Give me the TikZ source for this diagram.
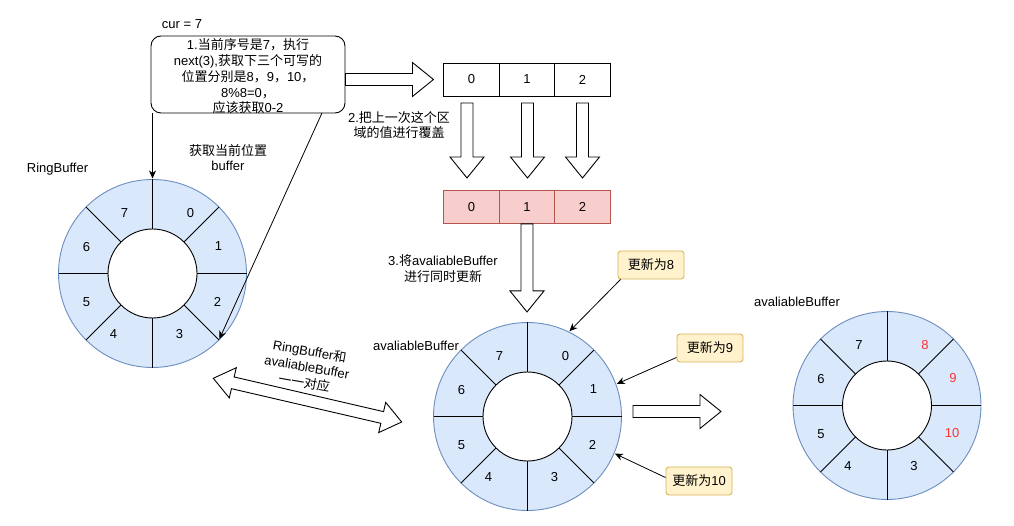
\documentclass[tikz,border=0pt]{standalone}
\usepackage{fontspec}
\setmainfont{Liberation Sans}
\newfontfamily\cjk{Noto Sans CJK SC}
\usetikzlibrary{arrows.meta,calc}

\definecolor{ringfill}{HTML}{DAE8FC}
\definecolor{ringdraw}{HTML}{6C8EBF}
\definecolor{redfill}{HTML}{F8CECC}
\definecolor{reddraw}{HTML}{B85450}
\definecolor{notefill}{HTML}{FFF2CC}
\definecolor{notedraw}{HTML}{D6B656}
\definecolor{hot}{HTML}{FF3333}

\newcommand{\drawring}[2]{%
  \node[circle, draw=ringdraw, fill=ringfill, minimum size=188pt, inner sep=0pt, outer sep=0pt] (#1) at #2 {};
  \node[circle, draw, fill=white, minimum size=89pt, inner sep=0pt, outer sep=0pt] (#1in) at #2 {};
  \foreach \a in {0,45,...,315} {\draw (#1in.\a) -- (#1.\a);}
}
% block arrow: start coordinate, angle, length
\newcommand{\blockarrow}[3]{%
  \begin{scope}[shift={#1}, rotate=#2]
    \draw[blk] (0,-6) -- ({#3-21},-6) -- ({#3-21},-17) -- (#3,0) -- ({#3-21},17) -- ({#3-21},6) -- (0,6) -- cycle;
  \end{scope}}

\begin{document}
\begin{tikzpicture}[x=1pt,y=-1pt,line width=0.9pt,
  font=\fontsize{13}{15.8}\selectfont,
  lbl/.style={inner sep=0pt, align=center},
  cell/.style={draw, minimum width=55.5pt, minimum height=33pt, inner sep=0pt},
  redcell/.style={cell, draw=reddraw, fill=redfill},
  note/.style={draw=notedraw, fill=notefill, rounded corners=3pt, minimum width=66pt, minimum height=28pt, inner sep=0pt},
  conn/.style={-{Stealth[length=8pt,width=7pt,inset=2.5pt]}, line width=0.8pt, shorten >=1pt},
  blk/.style={draw, fill=white, line width=0.9pt},
]
\useasboundingbox (0,0) rectangle (1014,526);
\fill[white] (0,0) rectangle (1014,526);

% top callout
\node[lbl] (cur) at (182,24) {cur = 7};
\node[draw, rounded corners=10pt, minimum width=194pt, minimum height=77pt, inner sep=0pt] (box) at (248,74.5) {};
\node[lbl] (boxtext) at (248,76.3)
  {1.{\cjk 当前序号是}7{\cjk ，执行}\\
   next(3),{\cjk 获取下三个可写的}\\
   {\cjk 位置分别是}8{\cjk ，}9{\cjk ，}10{\cjk ，}\\
   8\%8=0{\cjk ，}\\
   {\cjk 应该获取}0-2};

% arrays
\node[cell] (a0) at (471.5,79.5) {0};
\node[cell] (a1) at (527,79.5) {1};
\node[cell] (a2) at (582.5,79.5) {2};
\node[redcell] (b0) at (471.5,207) {0};
\node[redcell] (b1) at (527,207) {1};
\node[redcell] (b2) at (582.5,207) {2};

% block arrows
\coordinate (ba1) at (box.east |- a0.west);
\blockarrow{(ba1)}{0}{88}
\coordinate (bd0) at (467,103);
\coordinate (bd1) at (527.5,103);
\coordinate (bd2) at (582.5,103);
\blockarrow{(bd0)}{-90}{75}
\blockarrow{(bd1)}{-90}{75}
\blockarrow{(bd2)}{-90}{75}
\coordinate (bd3) at (b1.south);
\blockarrow{(bd3)}{-90}{88}
\coordinate (ba2) at (633,411.5);
\blockarrow{(ba2)}{0}{88}

% double block arrow
\coordinate (dbl) at (213.3,378.3);
\begin{scope}[shift={(dbl)}, rotate=-13.06]
  \draw[blk] (0,0) -- (20,-15.5) -- (20,-6) -- (173.4,-6) -- (173.4,-15.5) -- (193.4,0)
    -- (173.4,15.5) -- (173.4,6) -- (20,6) -- (20,15.5) -- cycle;
\end{scope}
\node[lbl, rotate=-10, font=\fontsize{13}{16}\selectfont] (dbltext) at (307,367)
  {RingBuffer{\cjk 和}\\avaliableBuffer\\{\cjk 一一对应}};

% labels
\node[lbl] (t2) at (399,125) {2.{\cjk 把上一次这个区}\\{\cjk 域的值进行覆盖}};
\node[lbl] (tget) at (228,157.5) {{\cjk 获取当前位置}\\buffer};
\node[lbl] (t3) at (443,268.5) {3.{\cjk 将}avaliableBuffer\\{\cjk 进行同时更新}};
\node[lbl] (lr1) at (57.5,169) {RingBuffer};
\node[lbl] (lr2) at (416,346) {avaliableBuffer};
\node[lbl] (lr3) at (797,302) {avaliableBuffer};

% rings
\drawring{r1}{(152.5,273.5)}
\drawring{r2}{(527.5,416.5)}
\drawring{r3}{(887,405.5)}
\foreach \t/\dx/\dy in {0/38/-60, 1/66/-27, 2/65/28, 3/27/61, 4/-39/61, 5/-66/29, 6/-66/-26, 7/-28/-60} {
  \node (r1l\t) at ($(r1)+(\dx,\dy)$) {\t};
  \node (r2l\t) at ($(r2)+(\dx,\dy)$) {\t};
}
\foreach \t/\dx/\dy/\c in {8/38/-60/hot, 9/66/-27/hot, 10/65/28/hot, 3/27/61/black, 4/-39/61/black, 5/-66/29/black, 6/-66/-26/black, 7/-28/-60/black} {
  \node[text=\c] (r3l\t) at ($(r3)+(\dx,\dy)$) {\t};
}

% connectors to RingBuffer
\draw[conn] (box.south -| r1.north) -- (r1.north);
\coordinate (dstart) at (322,113);
\draw[conn] (dstart) -- (r1.-45);

% notes
\node[note] (n8) at (651,265) {{\cjk 更新为}8};
\node[note] (n9) at (710,348) {{\cjk 更新为}9};
\node[note] (n10) at (699,481) {{\cjk 更新为}10};
\draw[conn] ($(n8.south west)+(3,0)$) -- (r2.64);
\draw[conn] ($(n9.south west)+(0,-5)$) -- (r2.20);
\draw[conn] ($(n10.north west)+(0,11)$) -- (r2.-23);
\end{tikzpicture}
\end{document}
